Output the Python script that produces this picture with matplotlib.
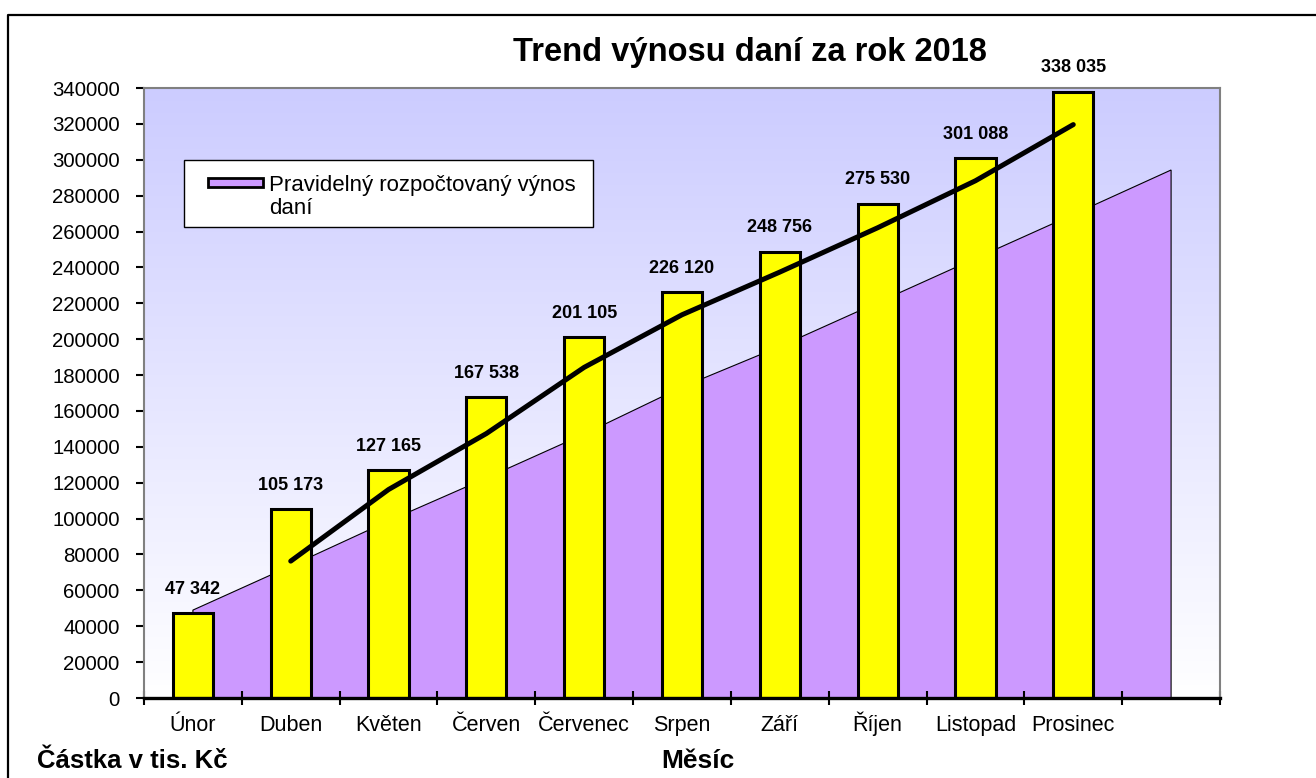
import matplotlib
matplotlib.use('Agg')
import matplotlib.pyplot as plt
import numpy as np
from matplotlib.colors import LinearSegmentedColormap
from matplotlib.patches import Rectangle
from matplotlib.lines import Line2D

plt.rcParams['font.family'] = ['Liberation Sans', 'DejaVu Sans']

# data (tis. Kč)
months = ['Únor', 'Duben', 'Květen', 'Červen', 'Červenec', 'Srpen',
          'Září', 'Říjen', 'Listopad', 'Prosinec', '']
actual = [47342, 105173, 127165, 167538, 201105, 226120, 248756,
          275530, 301088, 338035]
planned = [49000, 73600, 98700, 122600, 147100, 173300, 195900,
           220400, 245000, 269500, 294300]
trend = [76300, 116200, 147400, 184300, 213600, 237400, 262100,
         288300, 319600]
yticks = list(range(0, 340001, 20000))

W, H = 1316, 778
fx = lambda x: x / W
fy = lambda y: 1 - y / H

fig = plt.figure(figsize=(W / 100, H / 100), dpi=100)
ax = fig.add_axes([fx(144), fy(698), (1220 - 144) / W, (698 - 88) / H])

# gradient background of the plot area
grad = np.linspace(0, 1, 256).reshape(-1, 1)
cmap = LinearSegmentedColormap.from_list('bg', ['#FFFFFF', '#CCCCFF'])
ax.imshow(grad, extent=[-0.5, 10.5, 0, 340000], origin='lower',
          aspect='auto', cmap=cmap, zorder=0)

x_area = np.arange(len(planned))
ax.fill(np.r_[x_area, x_area[-1], x_area[0]], np.r_[planned, 0, 0],
        facecolor='#CC99FF', edgecolor='black', linewidth=0.8, zorder=1)

x_bar = np.arange(len(actual))
ax.bar(x_bar, actual, width=0.41, color='#FFFF00', edgecolor='black',
       linewidth=2.2, zorder=2)

x_tr = np.arange(1, 1 + len(trend))
ax.plot(x_tr, trend, color='black', linewidth=3.6, solid_capstyle='round',
        solid_joinstyle='round', zorder=3)

for xi, v in zip(x_bar, actual):
    ax.annotate(f'{v:,}'.replace(',', ' '), (xi, v), xytext=(0, 11),
                textcoords='offset points', ha='center', va='bottom',
                fontsize=13, fontweight='bold', zorder=4, annotation_clip=False)

ax.set_xlim(-0.5, 10.5)
ax.set_ylim(0, 340000)
ax.set_yticks(yticks)
ax.set_yticklabels([str(t) for t in yticks], fontsize=14.7)
ax.set_xticks(np.arange(-0.5, 11, 1))
ax.set_xticklabels([])
ax.set_xticks(np.arange(len(months)), minor=True)
ax.set_xticklabels(months, minor=True, fontsize=15.5)
for lab in ax.get_xticklabels(minor=True):
    lab.set_verticalalignment('baseline')
ax.tick_params(axis='x', which='major', direction='inout', length=9.5,
               width=1.5, color='black')
ax.tick_params(axis='x', which='minor', length=0, pad=24)
ax.tick_params(axis='y', direction='out', length=6, width=1.5, pad=11.5,
               color='black')

for s in ['top', 'right', 'left']:
    ax.spines[s].set_color('#808080')
    ax.spines[s].set_linewidth(1.5)
ax.spines['bottom'].set_color('black')
ax.spines['bottom'].set_linewidth(2.4)
ax.spines['bottom'].set_zorder(5)

# legend box
fig.add_artist(Rectangle((fx(184), fy(227)), (593 - 184) / W, (227 - 160) / H,
                         transform=fig.transFigure, facecolor='white',
                         edgecolor='black', linewidth=1))
fig.add_artist(Rectangle((fx(208), fy(187)), 55 / W, 9 / H,
                         transform=fig.transFigure, facecolor='#CC99FF',
                         edgecolor='black', linewidth=2))
fig.text(fx(269), fy(197), 'Pravidelný rozpočtovaný výnos\ndaní', fontsize=16,
         ha='left', va='center', linespacing=1.15)

fig.text(fx(750), fy(53), 'Trend výnosu daní za rok 2018', fontsize=23.5,
         fontweight='bold', ha='center', va='center')
fig.text(fx(37), fy(761), 'Částka v tis. Kč', fontsize=18.5, fontweight='bold',
         ha='left', va='center')
fig.text(fx(698), fy(761), 'Měsíc', fontsize=19, fontweight='bold',
         ha='center', va='center')

# outer frame
fig.add_artist(Line2D([fx(8), fx(8), 1.0], [0, fy(15), fy(15)],
                      transform=fig.transFigure, color='black', linewidth=1.6))

fig.savefig('out.png', dpi=100)
